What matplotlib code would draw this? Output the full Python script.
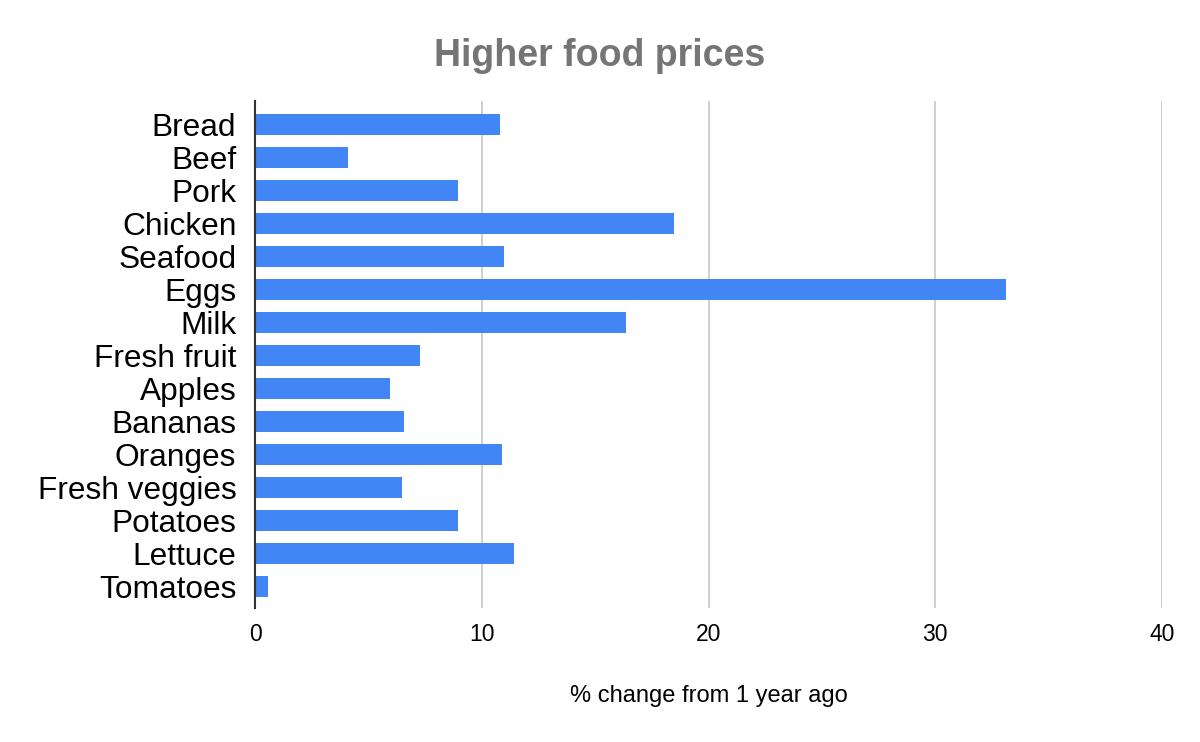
import matplotlib
matplotlib.use("Agg")
import matplotlib.pyplot as plt

categories = ["Bread", "Beef", "Pork", "Chicken", "Seafood", "Eggs", "Milk",
              "Fresh fruit", "Apples", "Bananas", "Oranges", "Fresh veggies",
              "Potatoes", "Lettuce", "Tomatoes"]
values = [10.8, 4.1, 8.95, 18.5, 10.98, 33.13, 16.37,
          7.28, 5.95, 6.57, 10.9, 6.48, 8.95, 11.42, 0.57]
xticks = [0, 10, 20, 30, 40]

plt.rcParams['font.family'] = ['Liberation Sans', 'DejaVu Sans']

fig = plt.figure(figsize=(12, 7.42), dpi=100)
ax = fig.add_axes([255/1200, 1-608/742, (1162-255)/1200, (608-101)/742])

pos = list(range(len(categories)))
ax.barh(pos, values, height=0.64, color="#4285F4", zorder=3)

ax.set_ylim(len(categories) - 1 + 0.64, -0.71)
ax.set_xlim(0, 40)
ax.set_xticks(xticks)
ax.set_xticklabels([str(t) for t in xticks], fontsize=16.5)
ax.set_yticks(pos)
ax.set_yticklabels(categories, fontsize=22.8)
ax.tick_params(axis='y', length=0, pad=13.5)
ax.tick_params(axis='x', length=0, pad=11)

ax.grid(axis='x', color="#cccccc", linewidth=1.3, zorder=0)
for s in ["top", "right", "bottom"]:
    ax.spines[s].set_visible(False)
ax.spines["left"].set_color("#333333")
ax.spines["left"].set_linewidth(1.5)
ax.spines["left"].set_zorder(4)

ax.set_xlabel("% change from 1 year ago", fontsize=17, labelpad=28)
fig.text(0.5, 1-66/742, "Higher food prices", ha="center", va="baseline",
         fontsize=27, fontweight="bold", color="#757575")

fig.savefig("out.png", dpi=100)
